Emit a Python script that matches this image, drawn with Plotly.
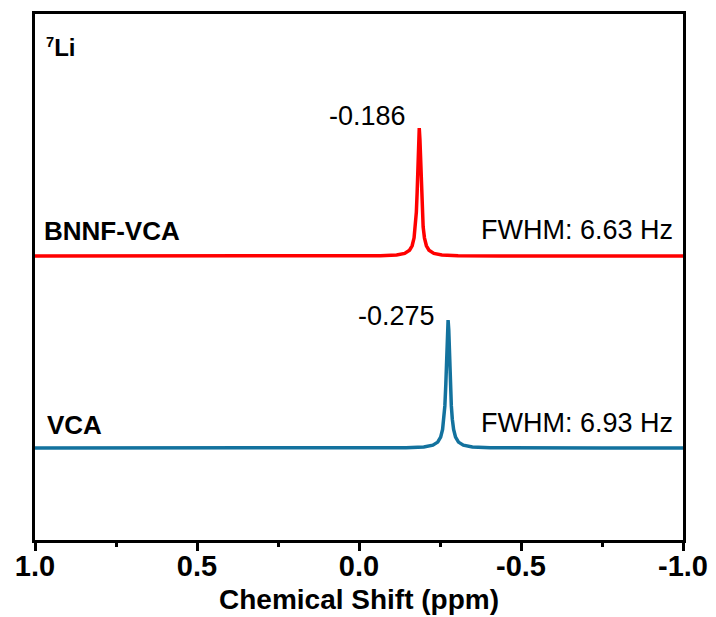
import plotly.graph_objects as go

# ---- data ----
shift_bnnf = [1.0, 0.6, 0.2, 0.064, -0.066, -0.116, -0.141, -0.156, -0.164, -0.170, -0.174, -0.177,
              -0.1795, -0.182, -0.184, -0.186, -0.188, -0.190, -0.1925, -0.195, -0.198, -0.202,
              -0.208, -0.216, -0.231, -0.256, -0.306, -0.436, -0.7, -1.0]
intensity_bnnf = [0, 0, 0, 0.0007, 0.0029, 0.0085, 0.020, 0.045, 0.080, 0.142, 0.227, 0.343,
                  0.5, 0.725, 0.913, 1.0, 0.913, 0.725, 0.5, 0.343, 0.227, 0.142,
                  0.080, 0.045, 0.020, 0.0085, 0.0029, 0.0007, 0, 0]

shift_vca = [1.0, 0.6, 0.2, -0.025, -0.145, -0.200, -0.228, -0.243, -0.252, -0.258, -0.262, -0.265,
             -0.268, -0.271, -0.273, -0.275, -0.277, -0.279, -0.282, -0.285, -0.288, -0.292,
             -0.298, -0.307, -0.322, -0.350, -0.405, -0.525, -0.75, -1.0]
intensity_vca = [0, 0, 0, 0.0008, 0.0029, 0.0086, 0.022, 0.046, 0.085, 0.145, 0.225, 0.329,
                 0.5, 0.754, 0.925, 1.0, 0.925, 0.754, 0.5, 0.329, 0.225, 0.145,
                 0.085, 0.046, 0.022, 0.0086, 0.0029, 0.0008, 0, 0]

peak_labels = ["-0.186", "-0.275"]
sample_names = ["BNNF-VCA", "VCA"]
fwhm_labels = ["FWHM: 6.63 Hz", "FWHM: 6.93 Hz"]
tick_values = [1.0, 0.5, 0.0, -0.5, -1.0]
tick_text = ["1.0", "0.5", "0.0", "-0.5", "-1.0"]
minor_tick_values = [0.75, 0.25, -0.25, -0.75]
x_title = "Chemical Shift (ppm)"

# ---- styling ----
OFFSET_BNNF = 1.5
OFFSET_VCA = 0.0
RED = "#ff0000"
BLUE = "#13729e"
FONT = "Liberation Sans, Arial, sans-serif"

fig = go.Figure()
fig.add_trace(go.Scatter(x=shift_bnnf, y=[v + OFFSET_BNNF for v in intensity_bnnf],
                         mode="lines", line=dict(color=RED, width=3.5), name=sample_names[0],
                         showlegend=False))
fig.add_trace(go.Scatter(x=shift_vca, y=[v + OFFSET_VCA for v in intensity_vca],
                         mode="lines", line=dict(color=BLUE, width=3.5), name=sample_names[1],
                         showlegend=False))

ann = []
reg = dict(family=FONT, size=27, color="black")
bold = dict(family=FONT, size=26, color="black", weight="bold")
ann.append(dict(x=0.972, y=3.13, xref="x", yref="y",
                text="<span style='font-size:21px'><sup>7</sup></span>Li", showarrow=False,
                xanchor="left", yanchor="middle",
                font=dict(family=FONT, size=24, color="black", weight="bold")))
ann.append(dict(x=-0.151, y=2.594, xref="x", yref="y", text=peak_labels[0], showarrow=False,
                xanchor="right", yanchor="middle", font=reg))
ann.append(dict(x=-0.241, y=1.031, xref="x", yref="y", text=peak_labels[1], showarrow=False,
                xanchor="right", yanchor="middle", font=reg))
ann.append(dict(x=0.977, y=1.695, xref="x", yref="y", text=sample_names[0], showarrow=False,
                xanchor="left", yanchor="middle", font=bold))
ann.append(dict(x=0.969, y=0.18, xref="x", yref="y", text=sample_names[1], showarrow=False,
                xanchor="left", yanchor="middle", font=bold))
ann.append(dict(x=-0.975, y=1.703, xref="x", yref="y", text=fwhm_labels[0], showarrow=False,
                xanchor="right", yanchor="middle", font=reg))
ann.append(dict(x=-0.975, y=0.195, xref="x", yref="y", text=fwhm_labels[1], showarrow=False,
                xanchor="right", yanchor="middle", font=reg))
# x-axis title placed under the tick labels
ann.append(dict(x=0.5, y=-59 / 526, xref="paper", yref="paper", text=x_title, showarrow=False,
                xanchor="center", yanchor="middle",
                font=dict(family=FONT, size=28, color="black", weight="bold")))

fig.update_layout(
    width=716, height=617,
    margin=dict(l=35, r=33, t=14, b=77, autoexpand=False),
    paper_bgcolor="white", plot_bgcolor="white",
    annotations=ann,
    xaxis=dict(range=[1.0, -1.0], showgrid=False, zeroline=False, automargin=False,
               showline=True, mirror=True, linecolor="black", linewidth=3,
               ticks="outside", ticklen=8, tickwidth=3, tickcolor="black",
               tickvals=tick_values, ticktext=tick_text, ticklabelstandoff=-10,
               tickfont=dict(family=FONT, size=29, color="black", weight="bold"),
               minor=dict(tickvals=minor_tick_values, ticks="outside", ticklen=4,
                          tickwidth=3, tickcolor="black")),
    yaxis=dict(range=[-0.71875, 3.390625], showgrid=False, zeroline=False, automargin=False,
               showline=True, mirror=True, linecolor="black", linewidth=3,
               ticks="", showticklabels=False),
)

fig.write_html("out.html", config={"displayModeBar": False},
               post_script="document.body.style.margin='0px';document.body.style.overflow='hidden';")
